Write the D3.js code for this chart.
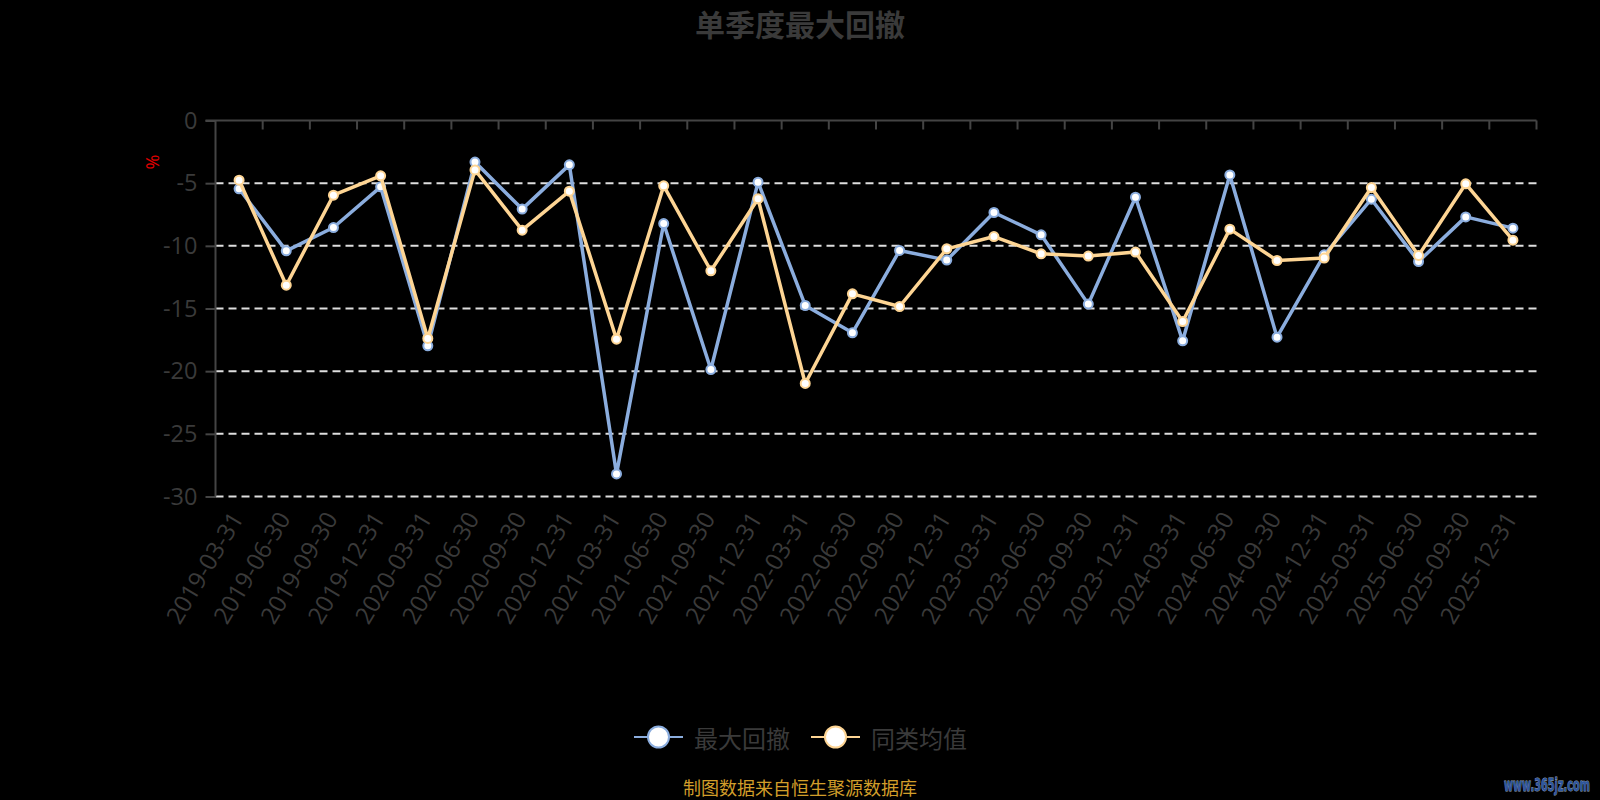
<!DOCTYPE html>
<html>
<head>
<meta charset="utf-8">
<script src="https://cdn.jsdelivr.net/npm/d3@7"></script>
<style>
  html, body { margin: 0; padding: 0; background: #000; }
  svg { display: block; }
</style>
</head>
<body>
<svg id="chart" width="1600" height="800"></svg>
<script>
const categories = ["2019-03-31","2019-06-30","2019-09-30","2019-12-31","2020-03-31","2020-06-30","2020-09-30","2020-12-31","2021-03-31","2021-06-30","2021-09-30","2021-12-31","2022-03-31","2022-06-30","2022-09-30","2022-12-31","2023-03-31","2023-06-30","2023-09-30","2023-12-31","2024-03-31","2024-06-30","2024-09-30","2024-12-31","2025-03-31","2025-06-30","2025-09-30","2025-12-31"];
const maxDrawdown = [-5.45,-10.40,-8.54,-5.29,-17.98,-3.32,-7.07,-3.54,-28.20,-8.22,-19.87,-4.92,-14.76,-16.94,-10.37,-11.14,-7.34,-9.12,-14.65,-6.12,-17.58,-4.34,-17.29,-10.72,-6.28,-11.25,-7.69,-8.59];
const peerAverage = [-4.76,-13.14,-5.96,-4.41,-17.39,-3.94,-8.75,-5.64,-17.45,-5.21,-11.99,-6.25,-20.98,-13.83,-14.84,-10.24,-9.26,-10.64,-10.82,-10.50,-16.04,-8.67,-11.17,-10.98,-5.35,-10.77,-5.05,-9.55];
const yTicks = [0,-5,-10,-15,-20,-25,-30];
const seriesNames = ["最大回撤","同类均值"];
const seriesColors = ["#8badde","#fed594"];
const titleText = "单季度最大回撤";
const unitText = "%";
const sourceText = "制图数据来自恒生聚源数据库";
const watermarkText = "www.365jz.com";

const svg = d3.select("#chart");
const plotLeft = 215.5, plotRight = 1536.5, plotTop = 120.5, plotBottom = 496.5;
const textColor = "#3a3a3a";
const axisColor = "#444";
const latinFont = "'Open Sans', 'Noto Sans CJK SC', sans-serif";
const cjkFont = "'Noto Sans CJK SC', sans-serif";

const x = d3.scaleBand().domain(categories).range([plotLeft, plotRight]).paddingInner(0).paddingOuter(0);
const y = d3.scaleLinear().domain([-30, 0]).range([plotBottom, plotTop]);
const cx = c => x(c) + x.bandwidth() / 2;

// Title
svg.append("text").attr("x", 800).attr("y", 36).attr("text-anchor", "middle")
  .attr("font-family", cjkFont).attr("font-size", 30).attr("font-weight", "bold")
  .attr("fill", textColor).text(titleText);

// Grid lines
svg.append("g").selectAll("line").data(yTicks.filter(t => t !== 0)).join("line")
  .attr("x1", plotLeft).attr("x2", plotRight)
  .attr("y1", d => y(d)).attr("y2", d => y(d))
  .attr("stroke", "#dedede").attr("stroke-width", 2).attr("stroke-dasharray", "8,5");

// Y axis
const yAxis = d3.axisLeft(y).tickValues(yTicks).tickSize(10).tickPadding(8);
const gy = svg.append("g").attr("transform", `translate(${plotLeft},0)`).call(yAxis);
gy.select(".domain").attr("stroke", axisColor).attr("stroke-width", 2).attr("d", `M0,${plotTop}V${plotBottom}`);
gy.selectAll(".tick line").attr("stroke", axisColor).attr("stroke-width", 2);
gy.selectAll(".tick text").attr("fill", textColor).attr("font-size", 23.5).attr("font-family", latinFont)
  .text(d => String(d));

// Unit label
svg.append("text").attr("transform", "translate(152,162) rotate(-90)")
  .attr("text-anchor", "middle").attr("dominant-baseline", "central")
  .attr("font-family", latinFont).attr("font-size", 18).attr("fill", "#e00000").text(unitText);

// X axis line (at zero) with ticks on band boundaries
const gx = svg.append("g");
gx.append("line").attr("x1", plotLeft - 10).attr("x2", plotRight).attr("y1", y(0)).attr("y2", y(0))
  .attr("stroke", axisColor).attr("stroke-width", 2);
const boundaries = categories.map(c => x(c)).concat([x(categories[categories.length - 1]) + x.bandwidth()]);
gx.selectAll("line.tk").data(boundaries.slice(1)).join("line").attr("class", "tk")
  .attr("x1", d => d).attr("x2", d => d).attr("y1", y(0)).attr("y2", y(0) + 9)
  .attr("stroke", axisColor).attr("stroke-width", 2);

// X labels at the bottom, rotated
svg.append("g").selectAll("text").data(categories).join("text")
  .attr("transform", d => `translate(${cx(d) - 3},${plotBottom + 17}) rotate(-59)`)
  .attr("text-anchor", "end").attr("dominant-baseline", "central")
  .attr("font-family", latinFont).attr("font-size", 24).attr("fill", textColor).text(d => d);

// Series
const allSeries = [maxDrawdown, peerAverage];
const line = d3.line().x((d, i) => cx(categories[i])).y(d => y(d));
allSeries.forEach((vals, si) => {
  const g = svg.append("g");
  g.append("path").datum(vals).attr("d", line).attr("fill", "none")
    .attr("stroke", seriesColors[si]).attr("stroke-width", 3.5).attr("stroke-linejoin", "round");
  g.selectAll("circle").data(vals).join("circle")
    .attr("cx", (d, i) => cx(categories[i])).attr("cy", d => y(d)).attr("r", 4.5)
    .attr("fill", "#fff").attr("stroke", seriesColors[si]).attr("stroke-width", 2);
});

// Legend
const legendItems = [{x: 634, name: seriesNames[0], color: seriesColors[0]}, {x: 811, name: seriesNames[1], color: seriesColors[1]}];
const lg = svg.append("g");
legendItems.forEach(it => {
  lg.append("line").attr("x1", it.x).attr("x2", it.x + 49).attr("y1", 737).attr("y2", 737)
    .attr("stroke", it.color).attr("stroke-width", 2);
  lg.append("circle").attr("cx", it.x + 24.5).attr("cy", 737).attr("r", 10.5)
    .attr("fill", "#fff").attr("stroke", it.color).attr("stroke-width", 2);
  lg.append("text").attr("x", it.x + 60).attr("y", 737).attr("dominant-baseline", "central")
    .attr("font-family", cjkFont).attr("font-size", 24).attr("fill", textColor).text(it.name);
});

// Source
svg.append("text").attr("x", 800).attr("y", 795).attr("text-anchor", "middle")
  .attr("font-family", cjkFont).attr("font-size", 18).attr("fill", "#d29e2a").text(sourceText);

// Watermark (horizontally condensed via transform so its box stays inside the page)
const wm = svg.append("text").attr("x", 0).attr("y", 0)
  .attr("font-family", "'DejaVu Sans', sans-serif").attr("font-size", 17).attr("font-weight", "bold")
  .attr("fill", "#2f579f").attr("stroke", "#9aa6b8").attr("stroke-width", 0.9).attr("paint-order", "stroke")
  .text(watermarkText);
const wmWidth = wm.node().getComputedTextLength() || 150;
const wmScale = 86 / wmWidth;
wm.attr("transform", `translate(1504,791) scale(${wmScale},1)`);
</script>
</body>
</html>
